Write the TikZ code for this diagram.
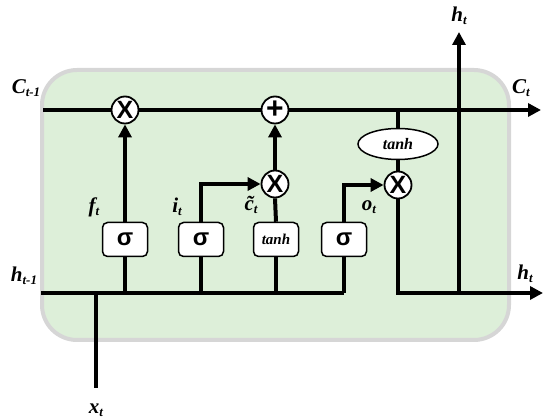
\documentclass[tikz,border=0pt]{standalone}
\usepackage{fontspec}
\setmainfont{Liberation Serif}
\newfontfamily\sansfam{Liberation Sans}
\usetikzlibrary{arrows.meta,shapes.geometric}
\definecolor{boxgreen}{RGB}{221,239,217}
\definecolor{boxgrey}{RGB}{214,214,214}
\newcommand\lbl[2]{#1\raisebox{-0.35ex}{\fontsize{13}{13}\selectfont #2}}
\tikzset{
  wire/.style={line width=4pt},
  arr/.style={wire,-{Triangle[length=13pt,width=13pt]}},
  op/.style={circle,draw,line width=1.8pt,fill=white,minimum size=27pt,inner sep=0pt,
    font=\sansfam\bfseries\fontsize{25}{25}\selectfont},
  gate/.style={draw,rounded corners=5pt,fill=white,line width=1.5pt,
    minimum width=45pt,minimum height=34pt,inner sep=0pt},
  sig/.style={gate,font=\sansfam\bfseries\fontsize{24}{24}\selectfont},
  tgate/.style={gate,font=\bfseries\itshape\fontsize{15}{15}\selectfont},
  lab/.style={font=\bfseries\itshape\fontsize{21}{21}\selectfont,inner sep=0pt},
}
\begin{document}
\begin{tikzpicture}[x=1pt,y=-1pt]
\useasboundingbox (0,0) rectangle (550,419);
\draw[line width=4pt,draw=boxgrey,fill=boxgreen,rounded corners=35pt] (42,70) rectangle (509,340);

% nodes
\node[op] (fx) at (125,110) {X};
\node[op,font=\sansfam\bfseries\fontsize{30}{30}\selectfont] (plus) at (275,110) {+};
\node[op] (ix) at (275,184) {X};
\node[op] (ox) at (398,185) {X};
\node[ellipse,draw,line width=1.5pt,fill=white,minimum width=80pt,minimum height=31pt,inner sep=0pt,
  font=\bfseries\itshape\fontsize{16}{16}\selectfont] (th) at (398,144) {tanh};
\node[sig] (fg) at (125,239.5) {σ};
\node[sig] (ig) at (201,239.5) {σ};
\node[tgate] (cg) at (276,239.5) {tanh};
\node[sig] (og) at (344,239.5) {σ};

\coordinate (cl) at (43,110);
\coordinate (cr) at (541,110);
\coordinate (tj) at (398,110);
\coordinate (hl) at (41,293);
\coordinate (he) at (344,293);
\coordinate (hc) at (398,293);
\coordinate (hr) at (543,293);
\coordinate (hj) at (459,293);
\coordinate (hu) at (459,32);
\coordinate (xb) at (96,388);
\coordinate (xj) at (96,293);

% cell state line
\draw[wire] (cl) -- (fx.west);
\draw[wire] (fx.east) -- (plus.west);
\draw[arr] (plus.east) -- (cr);
\draw[wire] (tj) -- (th.north);
\draw[wire] (th.south) -- (ox.north);

% hidden line
\draw[wire] (hl) -- (he);
\draw[wire] (xb) -- (xj);
\draw[wire] (fg.south) -- (fg.south |- hl);
\draw[wire] (ig.south) -- (ig.south |- hl);
\draw[wire] (cg.south) -- (cg.south |- hl);
\draw[wire] (og.south) -- (og.south |- hl);

% gates
\draw[arr] (fg.north) -- (fx.south);
\draw[arr] (ig.north) |- (ix.west);
\draw[wire] (cg.north) -- (ix.south);
\draw[arr] (ix.north) -- (plus.south);
\draw[arr] (og.north) |- (ox.west);

% output
\draw[arr,line join=miter] (ox.south) -- (hc) -- (hr);
\draw[arr] (hj) -- (hu);

% labels
\node[lab] (lc1) at (26,88) {\lbl{C}{t-1}};
\node[lab] (lh1) at (24,276) {\lbl{h}{t-1}};
\node[lab] (lx) at (96,410) {\lbl{x}{t}};
\node[lab] (lht) at (459,16) {\lbl{h}{t}};
\node[lab] (lct) at (521,88) {\lbl{C}{t}};
\node[lab] (lhr) at (525,274) {\lbl{h}{t}};
\node[lab] (lf) at (94,207) {\lbl{f}{t}};
\node[lab] (li) at (177,207) {\lbl{i}{t}};
\node[lab] (lc) at (251,205) {\lbl{\~{c}}{t}};
\node[lab] (lo) at (369,207) {\lbl{o}{t}};
\end{tikzpicture}
\end{document}
